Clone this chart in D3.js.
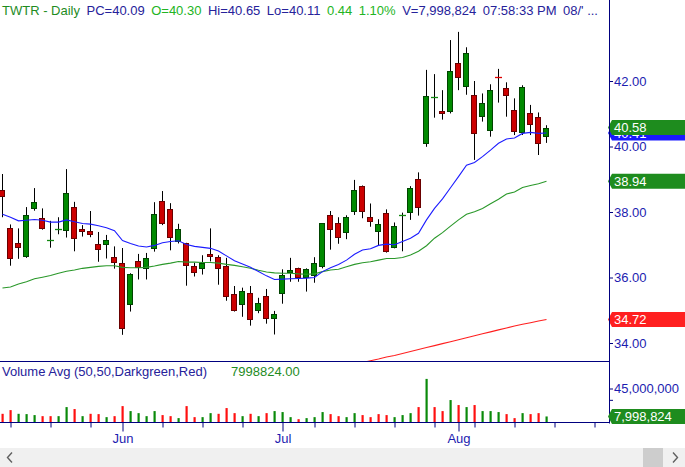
<!DOCTYPE html>
<html><head><meta charset="utf-8">
<script src="https://cdn.jsdelivr.net/npm/d3@7"></script>
<style>html,body{margin:0;padding:0;background:#fff;overflow:hidden}svg{display:block;font-family:"Liberation Sans",Arial,sans-serif}</style>
</head><body>
<svg id="c" width="685" height="467"></svg>
<script>
// ---- data ----
const openP = [38.67,37.50,37.05,36.64,38.10,37.81,37.12,37.45,37.41,38.14,37.48,37.42,37.01,36.98,36.62,36.43,35.15,36.49,36.25,36.86,38.33,38.08,37.09,37.04,36.34,36.25,36.71,36.62,36.35,35.50,35.17,35.52,34.97,35.43,34.72,35.49,36.15,36.28,35.97,36.05,36.33,37.90,37.65,37.35,37.99,38.80,37.84,37.38,37.96,36.91,37.90,37.98,39.00,40.07,41.49,41.07,41.06,42.54,41.81,41.56,40.91,40.48,42.12,41.78,41.10,40.40,41.01,40.89,40.30];
const highP = [39.16,37.62,37.50,38.15,38.73,38.11,37.73,37.84,39.31,38.31,37.60,38.03,37.39,37.30,36.95,36.90,36.13,36.72,36.75,38.30,38.64,38.27,37.64,37.06,36.45,36.68,37.50,36.68,36.60,35.74,35.69,35.74,35.38,35.65,34.98,36.25,36.60,36.30,36.28,36.62,37.66,38.03,37.84,37.90,38.98,38.81,38.26,37.78,38.08,37.68,37.98,38.79,39.21,42.34,42.21,41.72,43.25,43.50,43.03,42.00,41.62,41.90,42.37,41.96,41.47,41.87,41.27,41.04,40.65];
const lowP = [37.84,36.36,36.57,36.60,38.04,37.46,36.91,37.32,37.22,36.80,37.25,37.23,36.48,36.58,36.27,34.25,34.96,35.94,35.94,36.79,37.60,36.83,37.04,35.75,36.03,36.09,36.49,35.78,35.29,34.96,34.80,34.53,34.91,34.59,34.26,35.20,35.87,35.87,35.57,35.84,36.28,36.85,37.03,37.17,37.91,37.81,37.55,36.97,36.76,36.89,36.80,37.76,37.89,39.99,40.88,40.82,41.01,41.72,41.58,39.59,40.76,40.30,41.34,40.91,40.35,40.35,40.35,39.74,40.11];
const closeP = [38.45,36.58,36.91,37.91,38.30,37.49,37.14,37.47,38.57,37.17,37.40,37.29,36.83,37.15,36.43,34.42,36.11,36.30,36.59,37.93,37.62,37.20,37.47,36.34,36.13,36.45,36.64,36.27,35.41,34.99,35.58,34.69,35.21,34.72,34.88,36.07,36.22,35.99,36.25,36.43,37.65,37.46,37.20,37.84,38.66,37.99,37.68,37.64,36.78,37.56,37.91,38.72,38.11,41.53,41.50,40.98,42.30,42.08,42.85,40.37,41.32,41.72,42.11,41.53,40.45,41.81,40.65,40.09,40.58];
const volume = [11.5,16.4,11.5,11.1,9.8,8.4,8.4,8.4,20.4,17.8,8.4,11.5,11.1,7.1,8.4,21.7,15.1,12.4,8.4,15.1,9.8,8.4,5.8,21.7,7.1,7.1,12.4,11.5,19.1,12.4,8.4,11.5,8.4,12.4,15.1,13.8,7.1,4.4,5.8,7.1,13.8,11.1,8.4,7.1,12.4,9.8,7.1,11.1,9.8,7.1,9.8,12.4,20.4,57.7,20.4,15.1,29.7,23.1,20.4,23.1,15.1,15.1,13.8,11.1,5.8,12.4,11.1,12.4,7.998824].map(v=>v*1e6);
const maBlue = [37.93,37.84,37.73,37.75,37.77,37.75,37.69,37.69,37.76,37.70,37.65,37.63,37.58,37.52,37.43,37.13,37.04,36.96,36.93,36.98,37.06,37.10,37.12,37.01,36.95,36.92,36.89,36.81,36.66,36.51,36.41,36.31,36.18,36.05,35.94,35.95,35.96,35.97,35.98,36.00,36.18,36.30,36.40,36.53,36.71,36.84,36.88,36.98,37.02,37.00,37.10,37.20,37.35,37.76,38.11,38.40,38.74,39.08,39.43,39.51,39.69,39.89,40.10,40.23,40.26,40.40,40.43,40.40,40.41];
const maGreen = [35.68,35.71,35.80,35.87,35.96,36.01,36.06,36.13,36.19,36.23,36.28,36.31,36.34,36.36,36.36,36.31,36.30,36.30,36.31,36.35,36.40,36.44,36.49,36.47,36.47,36.46,36.46,36.44,36.40,36.37,36.33,36.28,36.22,36.17,36.14,36.13,36.13,36.11,36.10,36.11,36.18,36.23,36.25,36.33,36.40,36.45,36.48,36.53,36.58,36.58,36.61,36.69,36.80,36.97,37.20,37.37,37.57,37.76,37.93,38.01,38.11,38.25,38.39,38.55,38.61,38.75,38.81,38.86,38.94];
const maRedStart = 44;
const maRed = [33.35,33.40,33.46,33.51,33.57,33.62,33.68,33.74,33.80,33.86,33.92,33.98,34.04,34.10,34.16,34.22,34.28,34.34,34.40,34.46,34.52,34.57,34.62,34.67,34.72];
const priceTicks = [34,36,38,40,42];
const volTicks = [30e6,45e6];
const volTickLabels = ["","45,000,000"];
const weekIdx = [1,6,11,20,25,30,39,44,49,54,59,64,69,74];
const monthIdx = [15,35,57];
const monthLabels = ["Jun","Jul","Aug"];
const header = [
  {t:"TWTR - Daily",c:"g"},{t:"PC=40.09",c:"n"},{t:"O=40.30",c:"b"},{t:"Hi=40.65",c:"n"},
  {t:"Lo=40.11",c:"n"},{t:"0.44",c:"b"},{t:"1.10%",c:"b"},{t:"V=7,998,824",c:"n"},
  {t:"07:58:33 PM",c:"n"},{t:"08/' ...",c:"n"}];
const volTitle = "Volume Avg (50,50,Darkgreen,Red)";
const volTitleValue = "7998824.00";

// ---- drawing ----
const svg = d3.select("#c");
const AX = 609, PRICE_BOTTOM = 361, DATE_Y = 422.5;
const NAVY = "#00007f", TXT = "#1c1cb0";
const colors = {g:"#1f8c1f", n:"#26229a", b:"#22b422"};

const x = d3.scaleLinear().domain([0,68]).range([2,546]);
const y = d3.scaleLinear().domain([34,42]).range([343,81]);
const yv = d3.scaleLinear().domain([0,45e6]).range([DATE_Y,388.5]);

svg.append("rect").attr("width",685).attr("height",467).attr("fill","#fff");
const defs = svg.append("defs");
defs.append("clipPath").attr("id","pc").append("rect").attr("x",0).attr("y",0).attr("width",AX).attr("height",PRICE_BOTTOM);

// header: segments laid out one after another
const hg = svg.append("g");
let hx = 2;
header.forEach(d=>{
  const t = hg.append("text").attr("x",hx).attr("y",14.5).attr("font-size",13)
    .attr("fill",colors[d.c]).text(d.t);
  hx += t.node().getComputedTextLength() + 6.5;
});

// candles
const pg = svg.append("g").attr("clip-path","url(#pc)");
const idx = d3.range(openP.length);
const cg = pg.append("g");
cg.selectAll("line.w").data(idx).join("line").attr("class","w")
  .attr("x1",i=>x(i)+0.5).attr("x2",i=>x(i)+0.5)
  .attr("y1",i=>y(highP[i])).attr("y2",i=>y(lowP[i]))
  .attr("stroke","#000").attr("stroke-width",1);
idx.forEach(i=>{
  const up = closeP[i] >= openP[i];
  const top = Math.round(y(Math.max(openP[i],closeP[i]))), bot = Math.round(y(Math.min(openP[i],closeP[i])));
  const cx = x(i);
  if (bot - top < 2) {
    cg.append("line").attr("x1",cx-3).attr("x2",cx+4).attr("y1",top+0.5).attr("y2",top+0.5)
      .attr("stroke", up ? "#118811" : "#dd0000").attr("stroke-width",1.3);
  } else {
    cg.append("rect").attr("x",cx-2.5).attr("y",top+0.5).attr("width",5).attr("height",bot-top-1)
      .attr("fill", up ? "#008a00" : "#cc0000")
      .attr("stroke", up ? "#004400" : "#6a0000").attr("stroke-width",1);
  }
});

// moving averages
const line = d3.line().x(d=>x(d[0])+0.5).y(d=>y(d[1]));
pg.append("path").datum(maRed.map((v,k)=>[k+maRedStart,v])).attr("d",line)
  .attr("fill","none").attr("stroke","#ff2020").attr("stroke-width",1.1);
pg.append("path").datum(maGreen.map((v,k)=>[k,v])).attr("d",line)
  .attr("fill","none").attr("stroke","#2a982a").attr("stroke-width",1.1);
pg.append("path").datum(maBlue.map((v,k)=>[k,v])).attr("d",line)
  .attr("fill","none").attr("stroke","#1c1cff").attr("stroke-width",1.1);

// price axis
const pAxis = svg.append("g").attr("transform",`translate(${AX},0)`)
  .call(d3.axisRight(y).tickValues(priceTicks).tickFormat(d3.format(".2f")).tickSize(4).tickPadding(1));
pAxis.select(".domain").remove();
pAxis.selectAll("line").attr("stroke",NAVY);
pAxis.selectAll("text").attr("fill",TXT).attr("font-size",13).attr("font-family","Liberation Sans, Arial, sans-serif");

// price labels on the axis
function tag(yc, fill, text){
  const h = 7.5;
  svg.append("path").attr("d",`M${AX-1},${yc} L${AX+3},${yc-h} L685,${yc-h} L685,${yc+h} L${AX+3},${yc+h} Z`).attr("fill",fill);
  svg.append("text").attr("x",AX+5).attr("y",yc).attr("dy","0.36em").attr("font-size",13)
    .attr("fill","#fff").text(text);
}
tag(y(maBlue[maBlue.length-1]), "#1a1aff", maBlue[maBlue.length-1].toFixed(2));
tag(y(closeP[closeP.length-1]), "#1e8c1e", closeP[closeP.length-1].toFixed(2));
tag(y(maGreen[maGreen.length-1]), "#1e8c1e", maGreen[maGreen.length-1].toFixed(2));
tag(y(maRed[maRed.length-1]), "#ff2020", maRed[maRed.length-1].toFixed(2));

// panel separator and axis lines
svg.append("line").attr("x1",0).attr("x2",AX).attr("y1",PRICE_BOTTOM+0.5).attr("y2",PRICE_BOTTOM+0.5).attr("stroke",NAVY);
svg.append("line").attr("x1",AX+0.5).attr("x2",AX+0.5).attr("y1",0).attr("y2",DATE_Y+1).attr("stroke",NAVY);

// volume panel
svg.append("text").attr("x",2).attr("y",376).attr("font-size",13).attr("fill",colors.n).text(volTitle);
svg.append("text").attr("x",231).attr("y",376).attr("font-size",13).attr("fill",colors.g).text(volTitleValue);
svg.append("g").selectAll("rect").data(idx).join("rect")
  .attr("x",i=>x(i)-0.5).attr("width",2.2)
  .attr("y",i=>yv(volume[i])).attr("height",i=>DATE_Y-yv(volume[i]))
  .attr("fill",i=> (i===0 ? closeP[0] < openP[0] : closeP[i] < closeP[i-1]) ? "#ff1010" : "#0a8a0a");

const vAxis = svg.append("g").attr("transform",`translate(${AX},0)`)
  .call(d3.axisRight(yv).tickValues(volTicks).tickFormat((d,k)=>volTickLabels[k]).tickSize(4).tickPadding(1));
vAxis.select(".domain").remove();
vAxis.selectAll("line").attr("stroke",NAVY);
vAxis.selectAll("text").attr("fill",TXT).attr("font-size",13).attr("font-family","Liberation Sans, Arial, sans-serif");
tag(yv(volume[volume.length-1]), "#1e8c1e", d3.format(",")(Math.round(volume[volume.length-1])));

// date axis
svg.append("line").attr("x1",0).attr("x2",AX).attr("y1",DATE_Y).attr("y2",DATE_Y).attr("stroke",NAVY).attr("stroke-width",1.2);
const wAxis = svg.append("g").attr("transform",`translate(0.5,${DATE_Y})`)
  .call(d3.axisBottom(x).tickValues(weekIdx).tickFormat("").tickSize(5));
wAxis.select(".domain").remove();
wAxis.selectAll("line").attr("stroke",NAVY);
const mAxis = svg.append("g").attr("transform",`translate(0.5,${DATE_Y})`)
  .call(d3.axisBottom(x).tickValues(monthIdx).tickFormat((d,k)=>monthLabels[k]).tickSize(9).tickPadding(2));
mAxis.select(".domain").remove();
mAxis.selectAll("line").attr("stroke",NAVY);
mAxis.selectAll("text").attr("fill",TXT).attr("font-size",13).attr("font-family","Liberation Sans, Arial, sans-serif");

// scrollbar
svg.append("rect").attr("x",0).attr("y",448).attr("width",685).attr("height",19).attr("fill","#f0f0f0");
svg.append("rect").attr("x",643).attr("y",448).attr("width",20).attr("height",19).attr("fill","#cdcdcd");
svg.append("path").attr("d","M12,452.5 L7.5,457.5 L12,462.5").attr("fill","none").attr("stroke","#606060").attr("stroke-width",1.4);
svg.append("path").attr("d","M673,452.5 L677.5,457.5 L673,462.5").attr("fill","none").attr("stroke","#606060").attr("stroke-width",1.4);
</script>
</body></html>
